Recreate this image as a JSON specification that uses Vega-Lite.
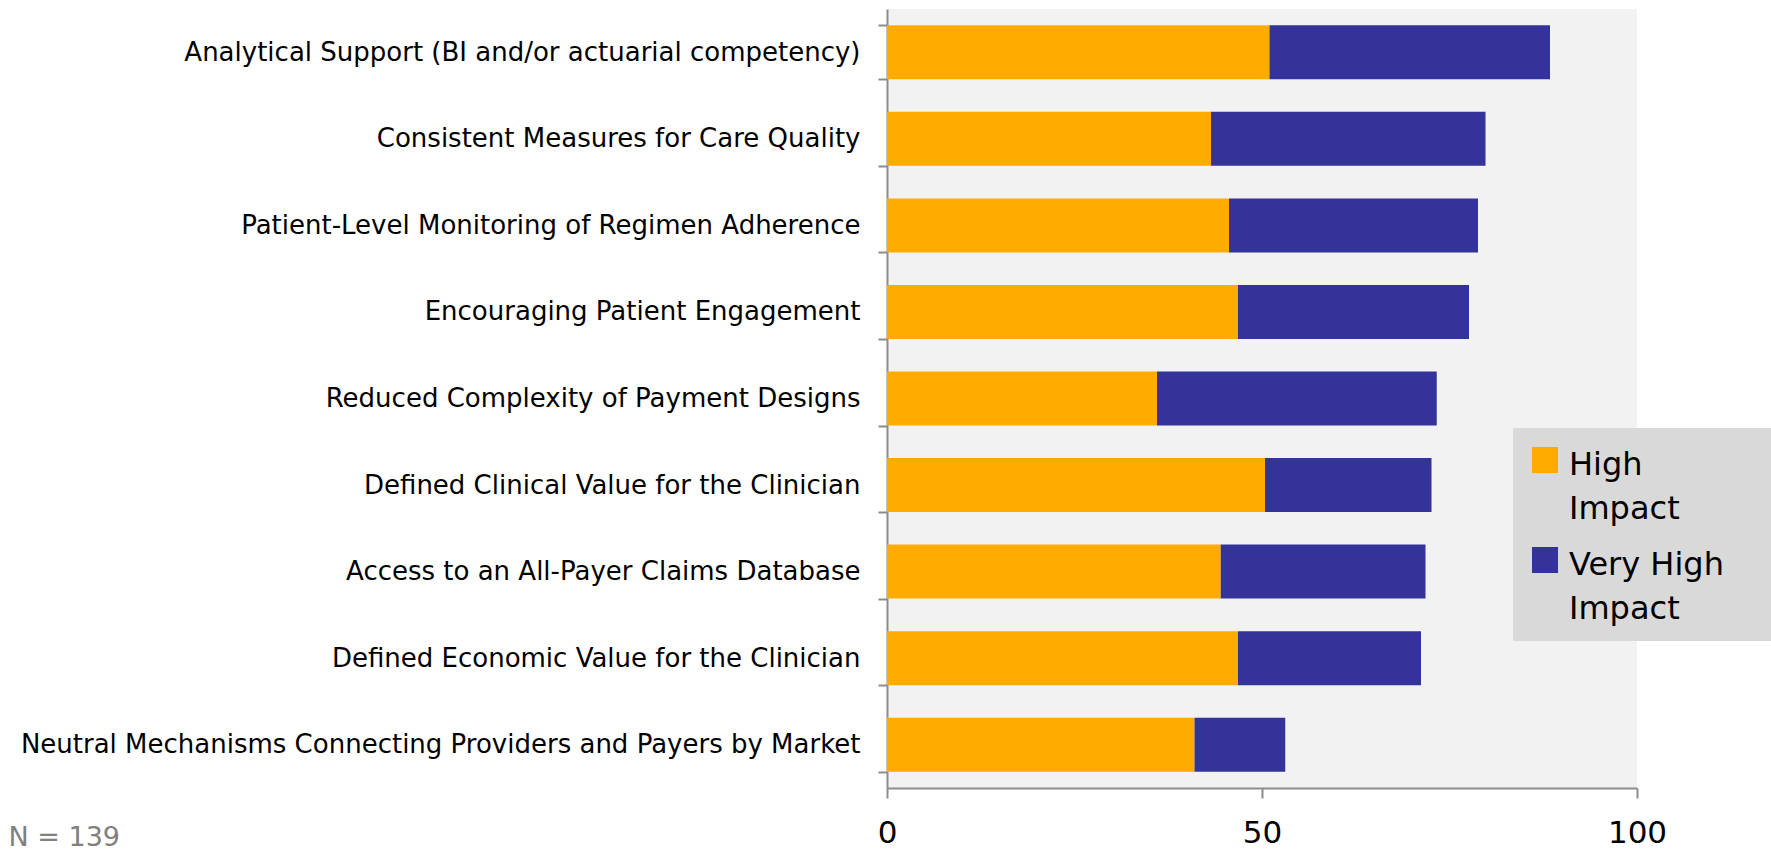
{
  "$schema": "https://vega.github.io/schema/vega-lite/v6.json",
  "width": 750,
  "height": 779,
  "autosize": {"type": "none"},
  "padding": {"left": 887, "top": 9, "right": 134, "bottom": 64},
  "background": "white",
  "data": {
    "values": [
      {"factor": "Analytical Support (BI and/or actuarial competency)", "impact": "High Impact", "value": 51.0},
      {"factor": "Analytical Support (BI and/or actuarial competency)", "impact": "Very High Impact", "value": 37.4},
      {"factor": "Consistent Measures for Care Quality", "impact": "High Impact", "value": 43.2},
      {"factor": "Consistent Measures for Care Quality", "impact": "Very High Impact", "value": 36.6},
      {"factor": "Patient-Level Monitoring of Regimen Adherence", "impact": "High Impact", "value": 45.6},
      {"factor": "Patient-Level Monitoring of Regimen Adherence", "impact": "Very High Impact", "value": 33.2},
      {"factor": "Encouraging Patient Engagement", "impact": "High Impact", "value": 46.8},
      {"factor": "Encouraging Patient Engagement", "impact": "Very High Impact", "value": 30.8},
      {"factor": "Reduced Complexity of Payment Designs", "impact": "High Impact", "value": 36.0},
      {"factor": "Reduced Complexity of Payment Designs", "impact": "Very High Impact", "value": 37.3},
      {"factor": "Defined Clinical Value for the Clinician", "impact": "High Impact", "value": 50.4},
      {"factor": "Defined Clinical Value for the Clinician", "impact": "Very High Impact", "value": 22.2},
      {"factor": "Access to an All-Payer Claims Database", "impact": "High Impact", "value": 44.5},
      {"factor": "Access to an All-Payer Claims Database", "impact": "Very High Impact", "value": 27.3},
      {"factor": "Defined Economic Value for the Clinician", "impact": "High Impact", "value": 46.8},
      {"factor": "Defined Economic Value for the Clinician", "impact": "Very High Impact", "value": 24.4},
      {"factor": "Neutral Mechanisms Connecting Providers and Payers by Market", "impact": "High Impact", "value": 41.0},
      {"factor": "Neutral Mechanisms Connecting Providers and Payers by Market", "impact": "Very High Impact", "value": 12.1}
    ]
  },
  "mark": {"type": "bar"},
  "encoding": {
    "y": {
      "field": "factor",
      "type": "nominal",
      "sort": null,
      "scale": {"paddingInner": 0.376, "paddingOuter": 0.188},
      "axis": {
        "title": null,
        "tickBand": "extent",
        "ticks": true,
        "tickSize": 9,
        "tickWidth": 2,
        "tickColor": "#8c8c8c",
        "domainColor": "#8c8c8c",
        "domainWidth": 2,
        "labelFont": "DejaVu Sans",
        "labelFontSize": 26,
        "labelColor": "#000000",
        "labelPadding": 18,
        "labelLimit": 0
      }
    },
    "x": {
      "field": "value",
      "type": "quantitative",
      "stack": "zero",
      "scale": {"domain": [0, 100], "nice": false},
      "axis": {
        "values": [0, 50, 100],
        "grid": false,
        "labelFlush": false,
        "tickSize": 10,
        "tickWidth": 2,
        "tickColor": "#8c8c8c",
        "domainColor": "#8c8c8c",
        "domainWidth": 2,
        "labelFont": "DejaVu Sans",
        "labelFontSize": 31,
        "labelColor": "#000000",
        "labelPadding": 20,
        "title": "N = 139",
        "titleX": -879,
        "titleY": 57,
        "titleAlign": "left",
        "titleAnchor": "start",
        "titleBaseline": "alphabetic",
        "titleFont": "DejaVu Sans",
        "titleFontSize": 27,
        "titleFontWeight": "normal",
        "titleColor": "#808080"
      }
    },
    "color": {
      "field": "impact",
      "type": "nominal",
      "scale": {"domain": ["High Impact", "Very High Impact"], "range": ["#ffab00", "#333399"]},
      "legend": {
        "title": null,
        "orient": "none",
        "legendX": 626,
        "legendY": 419,
        "fillColor": "#d9d9d9",
        "padding": 16,
        "symbolType": "square",
        "symbolSize": 676,
        "symbolStrokeWidth": 0,
        "symbolOpacity": 1,
        "labelFont": "DejaVu Sans",
        "labelFontSize": 32,
        "labelColor": "#000000",
        "labelOffset": 8,
        "labelLimit": 0,
        "labelBaseline": "top",
        "labelExpr": "datum.label == 'High Impact' ? ['High', 'Impact'] : ['Very High\u00a0\u2800', 'Impact']",
        "rowPadding": 19,
        "encode": {"labels": {"update": {"lineHeight": {"value": 44}, "dy": {"value": -10}}}}
      }
    }
  },
  "config": {"view": {"fill": "#f2f2f2", "stroke": null}}
}
